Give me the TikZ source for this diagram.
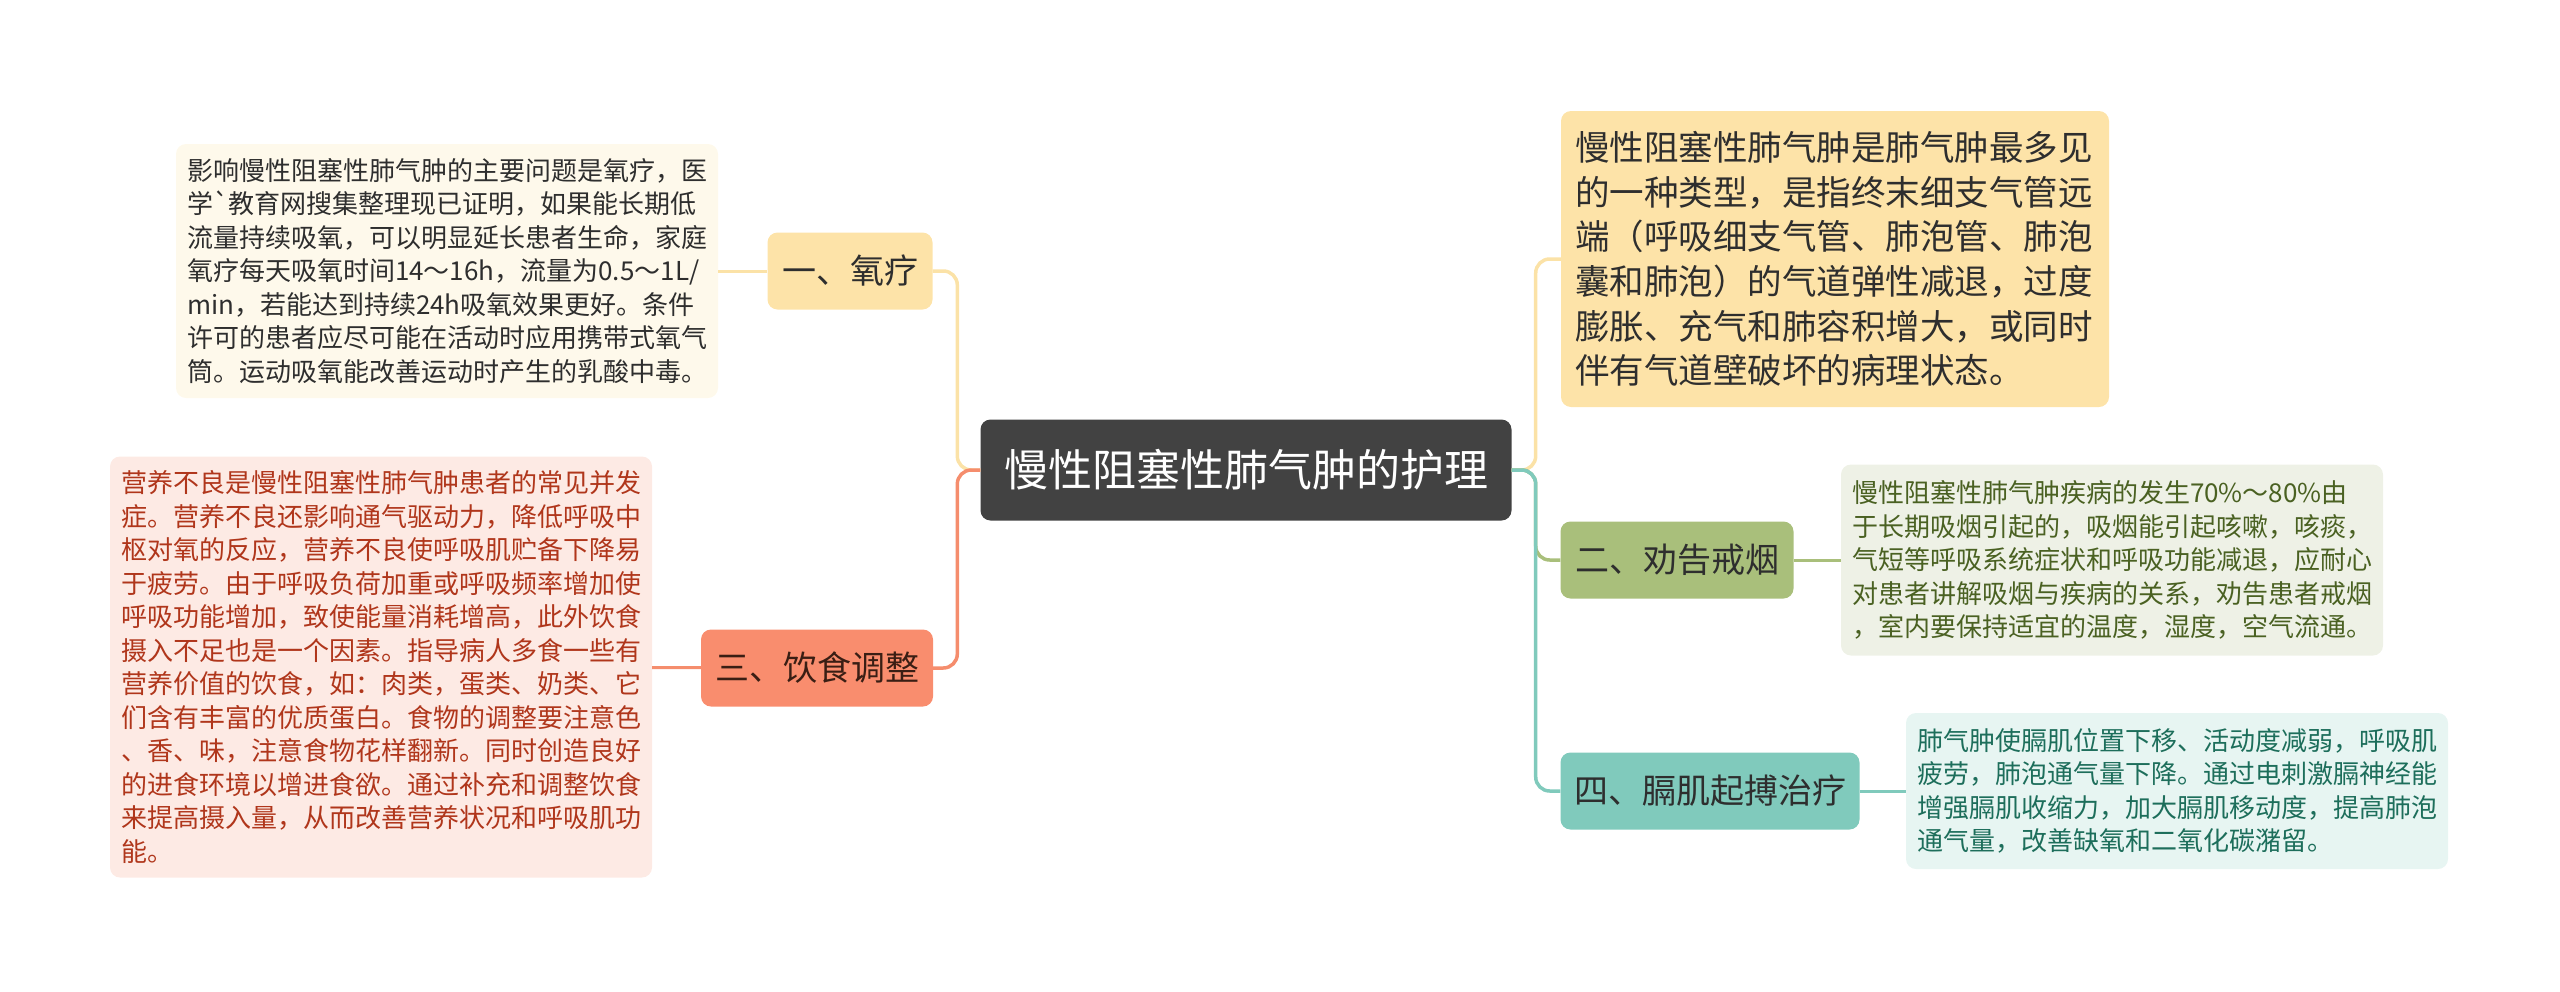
\documentclass[tikz,border=0pt]{standalone}
\usepackage{fontspec}
\setmainfont{Noto Sans CJK SC}

\definecolor{rootgray}{HTML}{424242}
\definecolor{textdark}{HTML}{2E2E2E}
\definecolor{yelfill}{HTML}{FDE3A8}
\definecolor{yelline}{HTML}{FBE2A7}
\definecolor{creamfill}{HTML}{FEF9EB}
\definecolor{orgfill}{HTML}{F98D6E}
\definecolor{orgline}{HTML}{F58D6D}
\definecolor{orgtext}{HTML}{3A1E14}
\definecolor{pinkfill}{HTML}{FDEAE4}
\definecolor{pinktext}{HTML}{B0361B}
\definecolor{grnfill}{HTML}{A9BF7B}
\definecolor{grnpale}{HTML}{EEF1E6}
\definecolor{grntext}{HTML}{4A6122}
\definecolor{tealfill}{HTML}{80CABC}
\definecolor{tealpale}{HTML}{E7F5F2}
\definecolor{tealtext}{HTML}{1D6E5B}

\begin{document}
\begin{tikzpicture}[x=1pt,y=-1pt]
    \tikzset{
        root/.style={fill=rootgray, text=white, rounded corners=10pt, inner sep=0pt,
            font=\fontsize{44}{50}\selectfont, minimum width=531pt, minimum height=101pt},
        topic/.style={text=textdark, rounded corners=10pt, inner sep=0pt,
            font=\fontsize{34}{40}\selectfont, minimum height=77pt},
        note/.style={rounded corners=10pt, align=left, text width=520pt, inner xsep=11pt,
            inner ysep=0pt, font=\fontsize{26}{33.5}\selectfont},
        link/.style={line width=3.5pt, rounded corners=14pt},
        sublink/.style={line width=3pt}
    }
    \useasboundingbox (0,0) rectangle (2560,991);

    % centre and the four topics
    \draw node[root] (root) at (1246,470) {慢性阻塞性肺气肿的护理};
    \draw node[topic, fill=yelfill, minimum width=165pt] (oxy) at (850,271) {一、氧疗};
    \draw node[topic, fill=orgfill, text=orgtext, minimum width=232pt] (diet) at (817,668) {三、饮食调整};
    \draw node[topic, fill=grnfill, minimum width=233pt] (smoke) at (1677,560) {二、劝告戒烟};
    \draw node[topic, fill=tealfill, minimum width=299pt] (pace) at (1710,791) {四、膈肌起搏治疗};
    \draw node[topic, fill=yelfill, align=left, text width=520pt, inner xsep=14pt,
        minimum height=296pt, font=\fontsize{34.5}{44.7}\selectfont] (defn) at (1835,259) {%
        慢性阻塞性肺气肿是肺气肿最多见\\
        的一种类型，是指终末细支气管远\\
        端（呼吸细支气管、肺泡管、肺泡\\
        囊和肺泡）的气道弹性减退，过度\\
        膨胀、充气和肺容积增大，或同时\\
        伴有气道壁破坏的病理状态。};

    % notes
    \draw node[note, fill=creamfill, text=textdark, minimum height=254pt] (oxynote) at (447,271) {%
        影响慢性阻塞性肺气肿的主要问题是氧疗，医\\
        学\textasciigrave 教育网搜集整理现已证明，如果能长期低\\
        流量持续吸氧，可以明显延长患者生命，家庭\\
        氧疗每天吸氧时间14～16h，流量为0.5～1L/\\
        min，若能达到持续24h吸氧效果更好。条件\\
        许可的患者应尽可能在活动时应用携带式氧气\\
        筒。运动吸氧能改善运动时产生的乳酸中毒。};
    \draw node[note, fill=pinkfill, text=pinktext, minimum height=421pt] (dietnote) at (381,667) {%
        营养不良是慢性阻塞性肺气肿患者的常见并发\\
        症。营养不良还影响通气驱动力，降低呼吸中\\
        枢对氧的反应，营养不良使呼吸肌贮备下降易\\
        于疲劳。由于呼吸负荷加重或呼吸频率增加使\\
        呼吸功能增加，致使能量消耗增高，此外饮食\\
        摄入不足也是一个因素。指导病人多食一些有\\
        营养价值的饮食，如：肉类，蛋类、奶类、它\\
        们含有丰富的优质蛋白。食物的调整要注意色\\
        、香、味，注意食物花样翻新。同时创造良好\\
        的进食环境以增进食欲。通过补充和调整饮食\\
        来提高摄入量，从而改善营养状况和呼吸肌功\\
        能。};
    \draw node[note, fill=grnpale, text=grntext, minimum height=191pt] (smokenote) at (2112,560) {%
        慢性阻塞性肺气肿疾病的发生70\%～80\%由\\
        于长期吸烟引起的，吸烟能引起咳嗽，咳痰，\\
        气短等呼吸系统症状和呼吸功能减退，应耐心\\
        对患者讲解吸烟与疾病的关系，劝告患者戒烟\\
        ，室内要保持适宜的温度，湿度，空气流通。};
    \draw node[note, fill=tealpale, text=tealtext, minimum height=156pt] (pacenote) at (2177,791) {%
        肺气肿使膈肌位置下移、活动度减弱，呼吸肌\\
        疲劳，肺泡通气量下降。通过电刺激膈神经能\\
        增强膈肌收缩力，加大膈肌移动度，提高肺泡\\
        通气量，改善缺氧和二氧化碳潴留。};

    % branches
    \draw[link, yelline] (root.west) -- ++(-23,0) |- (oxy.east);
    \draw[link, orgline] (root.west) -- ++(-23,0) |- (diet.east);
    \draw[link, yelline] (root.east) -- ++(24,0) |- (defn.west);
    \draw[link, grnfill] (root.east) -- ++(24,0) |- (smoke.west);
    \draw[link, tealfill] (root.east) -- ++(24,0) |- (pace.west);

    \foreach \x/\y/\c in {%
        oxy/oxynote/yelline, diet/dietnote/orgline,%
        smoke/smokenote/grnfill, pace/pacenote/tealfill%
    }{
        \draw[sublink, \c] (\x) -- (\y);
    }
\end{tikzpicture}
\end{document}
